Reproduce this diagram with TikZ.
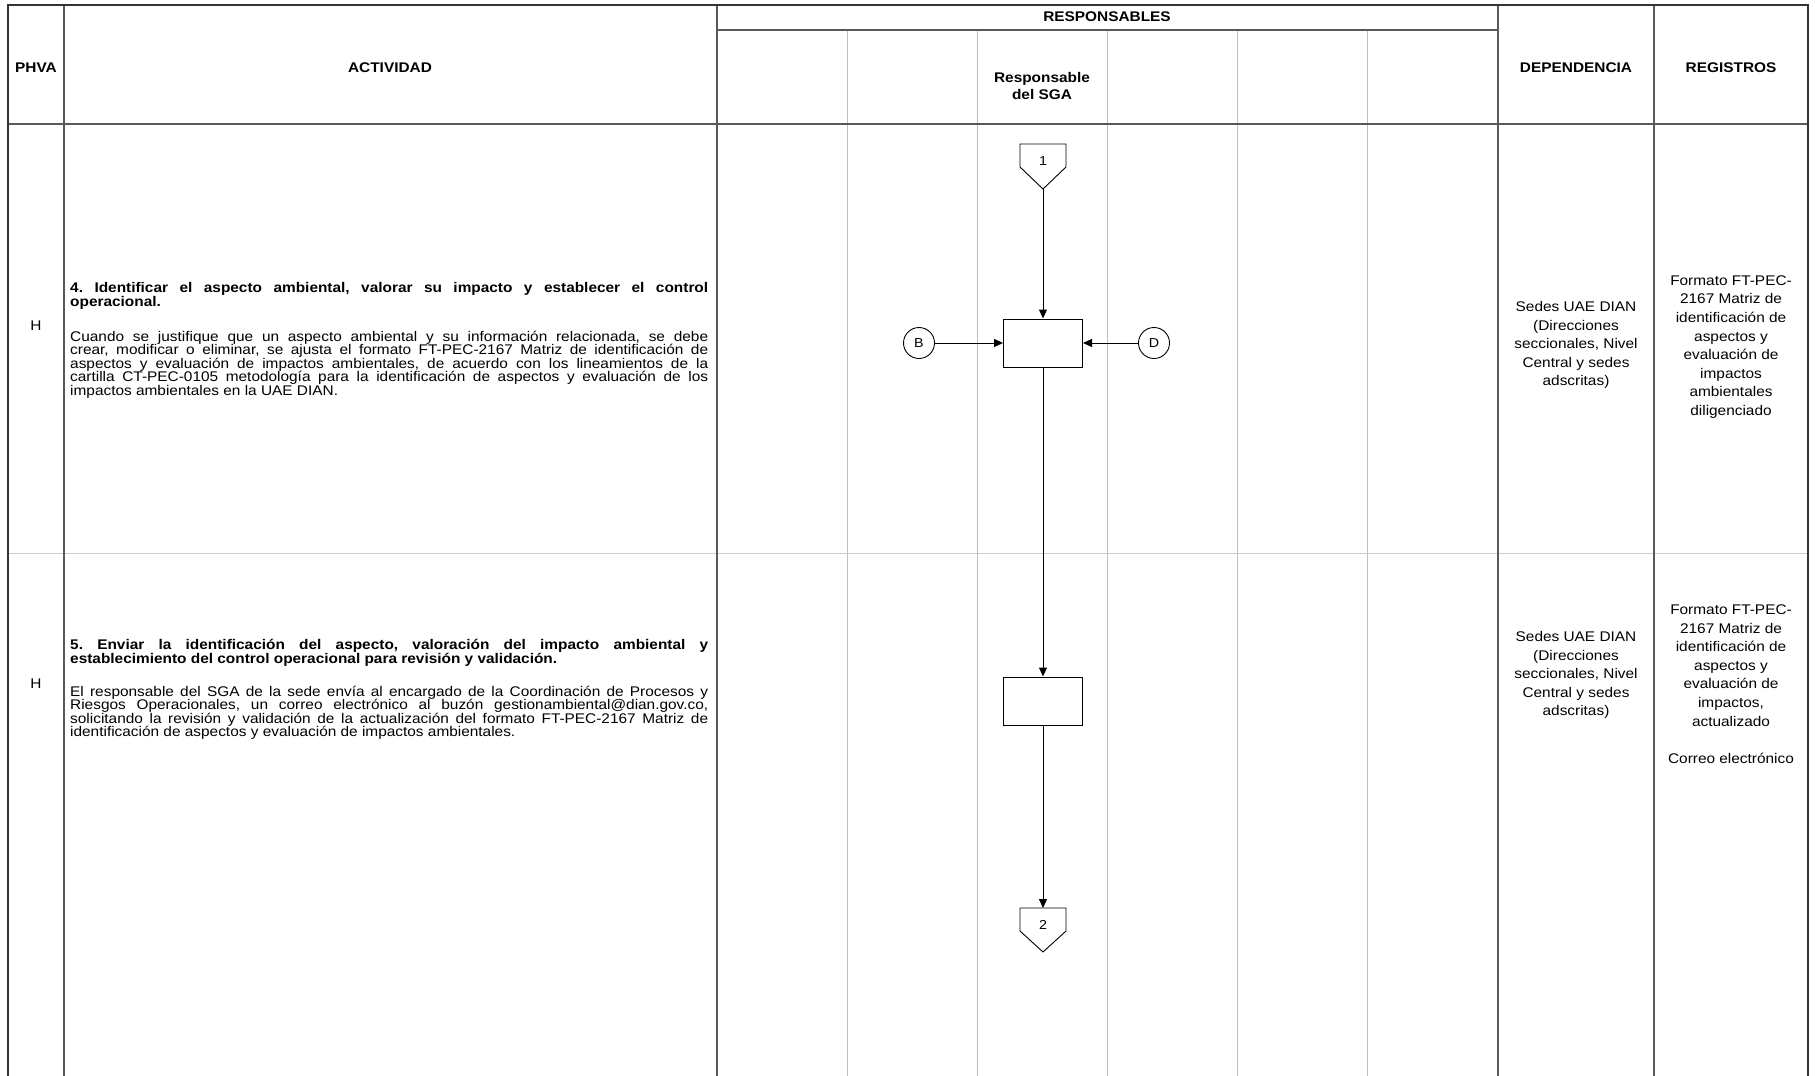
\documentclass[tikz,border=0pt]{standalone}
\usepackage{fontspec}
\setmainfont[FakeStretch=1.1]{Liberation Sans}
\usetikzlibrary{arrows.meta}
\begin{document}
\frenchspacing
\begin{tikzpicture}[x=1pt,y=-1pt,
  frame/.style={draw=black!80,line width=1.1pt},
  inner/.style={draw=black!65,line width=1.1pt},
  lane/.style={draw=black!25,line width=1pt},
  rowsep/.style={draw=black!20,line width=1pt},
  hdr/.style={font=\bfseries\fontsize{14}{17.4}\selectfont,align=center,inner sep=0},
  cell/.style={font=\fontsize{14}{18.6}\selectfont,align=center,inner sep=0},
  acthead/.style={anchor=north west,text width=638pt,align=justify,inner sep=0,font=\bfseries\fontsize{14}{14}\selectfont},
  actbody/.style={anchor=north west,text width=638pt,align=justify,inner sep=0,font=\fontsize{14}{13.4}\selectfont},
  procbox/.style={draw,line width=1pt,minimum width=79pt,minimum height=48pt,inner sep=0},
  onpage/.style={draw,circle,line width=0.9pt,minimum size=31pt,inner sep=0,font=\fontsize{13}{13}\selectfont},
  offpage/.style={draw,line width=0.9pt},
  flow/.style={line width=1pt,-{Triangle[length=9pt,width=8pt]}}
]
\useasboundingbox (0,0) rectangle (1815,1076);
\fill[white] (0,0) rectangle (1815,1076);

% lanes and row separator
\foreach \x in {847,977,1107,1237,1367} \draw[lane] (\x,30) -- (\x,1076);
\draw[rowsep] (8,553) -- (1808,553);

% table frame
\draw[inner] (64,5) -- (64,1076);
\draw[inner] (717,5) -- (717,1076);
\draw[inner] (1498,5) -- (1498,1076);
\draw[inner] (1654,5) -- (1654,1076);
\draw[inner] (717,30) -- (1498,30);
\draw[inner] (8,124) -- (1808,124);
\draw[frame] (8,1076) -- (8,5) -- (1808,5) -- (1808,1076);

% header texts
\node[hdr] (hphva) at (36,68) {PHVA};
\node[hdr] (hact) at (390,68) {ACTIVIDAD};
\node[hdr] (hresp) at (1107,17) {RESPONSABLES};
\node[hdr] (hsga) at (1042,86) {Responsable\\del SGA};
\node[hdr] (hdep) at (1576,68) {DEPENDENCIA};
\node[hdr] (hreg) at (1731,68) {REGISTROS};

% row 1
\node[cell] (h1) at (36,326) {H};
\node[acthead] (a1h) at (70,282) {4. Identificar el aspecto ambiental, valorar su impacto y establecer el control\linebreak operacional.};
\node[actbody] (a1b) at (70,331) {Cuando se justifique que un aspecto ambiental y su información relacionada, se debe\linebreak crear, modificar o eliminar, se ajusta el formato FT-PEC-2167 Matriz de identificación de\linebreak aspectos y evaluación de impactos ambientales, de acuerdo con los lineamientos de la\linebreak cartilla CT-PEC-0105 metodología para la identificación de aspectos y evaluación de los\linebreak impactos ambientales en la UAE DIAN.};
\node[cell] (d1) at (1576,345) {Sedes UAE DIAN\\(Direcciones\\seccionales, Nivel\\Central y sedes\\adscritas)};
\node[cell] (r1) at (1731,347) {Formato FT-PEC-\\2167 Matriz de\\identificación de\\aspectos y\\evaluación de\\impactos\\ambientales\\diligenciado};

% row 2
\node[cell] (h2) at (36,684) {H};
\node[acthead] (a2h) at (70,639) {5. Enviar la identificación del aspecto, valoración del impacto ambiental y\linebreak establecimiento del control operacional para revisión y validación.};
\node[actbody] (a2b) at (70,686) {El responsable del SGA de la sede envía al encargado de la Coordinación de Procesos y\linebreak Riesgos Operacionales, un correo electrónico al buzón gestionambiental@dian.gov.co,\linebreak solicitando la revisión y validación de la actualización del formato FT-PEC-2167 Matriz de\linebreak identificación de aspectos y evaluación de impactos ambientales.};
\node[cell] (d2) at (1576,675) {Sedes UAE DIAN\\(Direcciones\\seccionales, Nivel\\Central y sedes\\adscritas)};
\node[cell] (r2) at (1731,684) {Formato FT-PEC-\\2167 Matriz de\\identificación de\\aspectos y\\evaluación de\\impactos,\\actualizado\\[18.6pt]Correo electrónico};

% flow elements
\draw[offpage] (1020,144) -- (1066,144) -- (1066,167) -- (1043,189) -- (1020,167) -- cycle;
\node[cell,font=\fontsize{13}{13}\selectfont] (c1) at (1043,161) {1};
\coordinate (c1tip) at (1043,189);
\node[procbox] (box1) at (1043,343) {};
\node[onpage] (B) at (919,343) {B};
\node[onpage] (D) at (1154,343) {D};
\node[procbox] (box2) at (1043,701) {};
\draw[offpage] (1020,908) -- (1066,908) -- (1066,931) -- (1043,952) -- (1020,931) -- cycle;
\node[cell,font=\fontsize{13}{13}\selectfont] (c2) at (1043,925) {2};
\coordinate (c2top) at (1043,908);

\draw[flow] (c1tip) -- (box1.north);
\draw[flow] (B) -- (box1.west);
\draw[flow] (D) -- (box1.east);
\draw[flow] (box1.south) -- (box2.north);
\draw[flow] (box2.south) -- (c2top);
\end{tikzpicture}
\end{document}
